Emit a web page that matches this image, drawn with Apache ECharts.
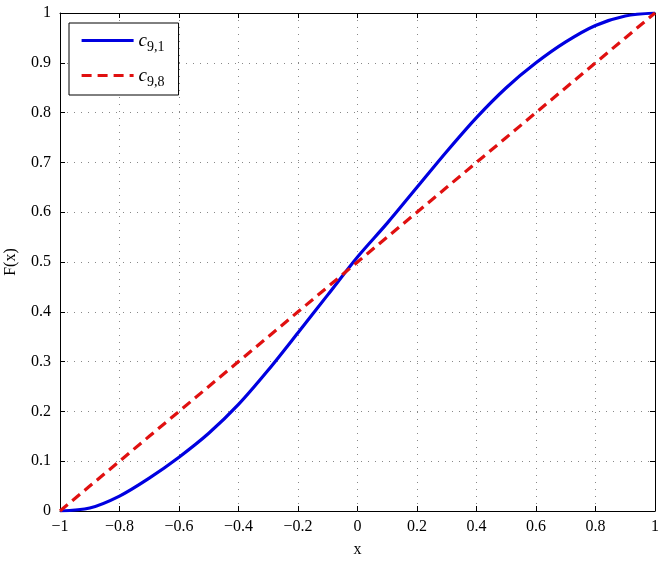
<!DOCTYPE html>
<html>
<head>
<meta charset="utf-8">
<script src="https://cdn.jsdelivr.net/npm/echarts@6/dist/echarts.min.js"></script>
<style>html,body{margin:0;padding:0;background:#fff;}#c{width:664px;height:561px;}</style>
</head>
<body>
<div id="c"></div>
<script>
const xValues = [-1, -0.9, -0.8, -0.7, -0.6, -0.5, -0.4, -0.3, -0.2, -0.1, 0, 0.1, 0.2, 0.3, 0.4, 0.5, 0.6, 0.7, 0.8, 0.9, 1];
const c91 = [0, 0.006, 0.03, 0.066, 0.108, 0.156, 0.214, 0.283, 0.358, 0.434, 0.51, 0.578, 0.65, 0.722, 0.79, 0.85, 0.9, 0.942, 0.975, 0.994, 1];
const c98 = [0, 0.05, 0.1, 0.15, 0.2, 0.25, 0.3, 0.35, 0.4, 0.45, 0.5, 0.55, 0.6, 0.65, 0.7, 0.75, 0.8, 0.85, 0.9, 0.95, 1];
const seriesNames = ['c91', 'c98'];
const legendSubs = {c91: '9,1', c98: '9,8'};

const font = 'Liberation Serif';
const fmtX = v => {
  const r = Math.round(v * 10) / 10;
  return (r < 0 ? '\u2212' : '') + String(Math.abs(r));
};
const fmtY = v => String(Math.round(v * 10) / 10);

const chart = echarts.init(document.getElementById('c'));
const axisCommon = {
  axisLine: {show: true, onZero: false, lineStyle: {color: '#000', width: 1}},
  axisTick: {show: true, inside: true, length: 5, lineStyle: {color: '#000'}},
};
chart.setOption({
  animation: false,
  backgroundColor: '#fff',
  grid: {left: 60, right: 9, top: 13, bottom: 50, containLabel: false, outerBoundsMode: 'none'},
  legend: {
    left: 69, top: 23,
    orient: 'vertical',
    backgroundColor: '#fff',
    borderColor: '#000', borderWidth: 1,
    padding: [8, 14, 6, 11],
    itemWidth: 52, itemHeight: 14, itemGap: 12,
    itemStyle: {opacity: 0},
    lineStyle: {width: 3.2},
    data: seriesNames,
    formatter: n => '{i|c}{s|' + legendSubs[n] + '}',
    textStyle: {
      color: '#000', fontFamily: font,
      rich: {
        i: {fontFamily: font, fontStyle: 'italic', fontSize: 19, color: '#000'},
        s: {fontFamily: font, fontSize: 14, color: '#000', padding: [13, 0, 0, 0]}
      }
    }
  },
  xAxis: [{
    type: 'value', min: -1, max: 1, interval: 0.2,
    ...axisCommon,
    axisLabel: {formatter: fmtX, color: '#000', fontFamily: font, fontSize: 16, margin: 8},
    splitLine: {show: true, lineStyle: {color: '#888', type: [1, 6], width: 1}},
    name: 'x', nameLocation: 'middle', nameGap: 31,
    nameTextStyle: {color: '#000', fontFamily: font, fontSize: 16}
  }, {
    type: 'value', min: -1, max: 1, interval: 0.2, position: 'top',
    ...axisCommon, axisLabel: {show: false}, splitLine: {show: false}
  }],
  yAxis: [{
    type: 'value', min: 0, max: 1, interval: 0.1,
    ...axisCommon,
    axisLabel: {formatter: fmtY, color: '#000', fontFamily: font, fontSize: 16, margin: 9},
    splitLine: {show: true, lineStyle: {color: '#888', type: [1, 6], width: 1}},
    name: 'F(x)', nameLocation: 'middle', nameGap: 41,
    nameTextStyle: {color: '#000', fontFamily: font, fontSize: 16}
  }, {
    type: 'value', min: 0, max: 1, interval: 0.1, position: 'right',
    ...axisCommon, axisLabel: {show: false}, splitLine: {show: false}
  }],
  series: [{
    name: 'c91', type: 'line', data: xValues.map((x, i) => [x, c91[i]]),
    smooth: 0.3, symbol: 'none', xAxisIndex: 0, yAxisIndex: 0,
    lineStyle: {color: '#0000e0', width: 3.2}, itemStyle: {color: '#0000e0'}, z: 3
  }, {
    name: 'c98', type: 'line', data: xValues.map((x, i) => [x, c98[i]]),
    symbol: 'none', xAxisIndex: 0, yAxisIndex: 0,
    lineStyle: {color: '#e01010', width: 3.2, type: [10, 6]}, itemStyle: {color: '#e01010'}, z: 4
  }]
});
</script>
</body>
</html>
